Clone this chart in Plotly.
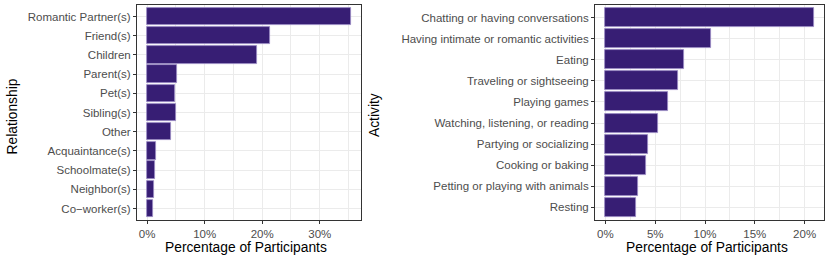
import plotly.graph_objects as go

rel_labels = ["Romantic Partner(s)", "Friend(s)", "Children", "Parent(s)", "Pet(s)",
              "Sibling(s)", "Other", "Acquaintance(s)", "Schoolmate(s)", "Neighbor(s)",
              "Co\u2212worker(s)"]
rel_values = [35.4, 21.4, 19.1, 5.1, 4.9, 5.0, 4.2, 1.6, 1.4, 1.2, 1.0]

act_labels = ["Chatting or having conversations", "Having intimate or romantic activities",
              "Eating", "Traveling or sightseeing", "Playing games",
              "Watching, listening, or reading", "Partying or socializing",
              "Cooking or baking", "Petting or playing with animals", "Resting"]
act_values = [20.9, 10.6, 7.9, 7.3, 6.3, 5.3, 4.3, 4.1, 3.3, 3.05]

BAR = "#371E74"
EDGE = "#9A8CC4"
GRID = "#EBEBEB"
AX = "#333333"
TXT = "#4D4D4D"
FONT = "Liberation Sans, Arial, sans-serif"

W, H = 830, 260
def px(x):
    return x / W
def py(y):
    return 1 - y / H

fig = go.Figure()
fig.add_trace(go.Bar(x=rel_values, y=list(range(len(rel_labels))), orientation="h",
                     width=0.9, marker=dict(color=BAR, line=dict(color=EDGE, width=0.8)),
                     xaxis="x", yaxis="y", showlegend=False))
fig.add_trace(go.Bar(x=act_values, y=list(range(len(act_labels))), orientation="h",
                     width=0.9, marker=dict(color=BAR, line=dict(color=EDGE, width=0.8)),
                     xaxis="x2", yaxis="y2", showlegend=False))

TICK_SIZE = 11.5
def xax(domain, mx, dtick, anchor):
    return dict(domain=domain, range=[-0.05 * mx, 1.05 * mx], anchor=anchor, automargin=False,
                tickmode="linear", tick0=0, dtick=dtick, ticksuffix="%",
                showgrid=True, gridcolor=GRID, gridwidth=1,
                minor=dict(showgrid=True, gridcolor=GRID, gridwidth=0.6, dtick=dtick / 2, tick0=0),
                zeroline=False, showline=True, mirror=True, linecolor=AX, linewidth=1,
                ticks="outside", ticklen=3, tickcolor=AX, tickwidth=1,
                tickfont=dict(family=FONT, size=TICK_SIZE, color=TXT))

def yax(domain, labels, anchor):
    n = len(labels)
    return dict(domain=domain, range=[n - 0.4, -0.6], anchor=anchor, automargin=False,
                tickmode="array", tickvals=list(range(n)), ticktext=labels,
                showgrid=True, gridcolor=GRID, gridwidth=1,
                zeroline=False, showline=True, mirror=True, linecolor=AX, linewidth=1,
                ticks="outside", ticklen=3, tickcolor=AX, tickwidth=1,
                tickfont=dict(family=FONT, size=TICK_SIZE, color=TXT))

ydom = [py(220), py(5)]
title_font = dict(family=FONT, size=13.8, color="black")
fig.update_layout(
    width=W, height=H, margin=dict(l=0, r=0, t=0, b=0, autoexpand=False),
    paper_bgcolor="white", plot_bgcolor="white", bargap=0,
    font=dict(family=FONT),
    xaxis=xax([px(137), px(361)], 35.4, 10, "y"),
    yaxis=yax(ydom, rel_labels, "x"),
    xaxis2=xax([px(595), px(824)], 20.9, 5, "y2"),
    yaxis2=yax(ydom, act_labels, "x2"),
    annotations=[
        dict(text="Percentage of Participants", x=px(246), y=py(247), xref="paper", yref="paper",
             showarrow=False, font=title_font, xanchor="center", yanchor="middle"),
        dict(text="Percentage of Participants", x=px(707), y=py(247), xref="paper", yref="paper",
             showarrow=False, font=title_font, xanchor="center", yanchor="middle"),
        dict(text="Relationship", x=px(12.5), y=py(117), xref="paper", yref="paper", textangle=-90,
             showarrow=False, font=title_font, xanchor="center", yanchor="middle"),
        dict(text="Activity", x=px(374), y=py(115), xref="paper", yref="paper", textangle=-90,
             showarrow=False, font=title_font, xanchor="center", yanchor="middle"),
    ],
)

fig.write_html("out.html", config={"displayModeBar": False},
               post_script="document.body.style.margin='0px';")
